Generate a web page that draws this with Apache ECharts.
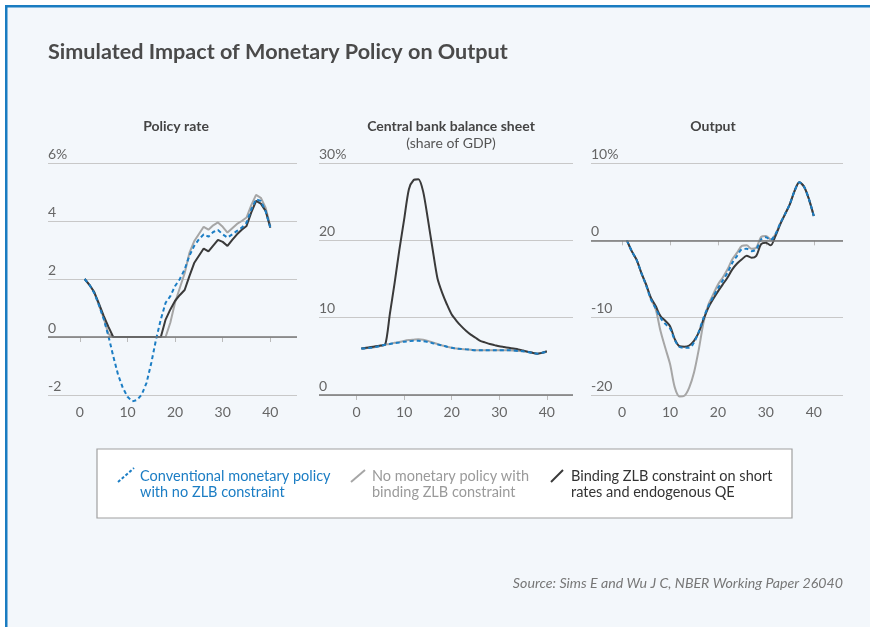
<!DOCTYPE html>
<html>
<head>
<meta charset="utf-8">
<script src="https://cdn.jsdelivr.net/npm/echarts@6/dist/echarts.min.js"></script>
<style>
  body { margin: 0; background: #ffffff; }
  #main { width: 870px; height: 627px; }
</style>
</head>
<body>
<div id="main"></div>
<script>
// quarters after the shock
var quarters = [];
for (var q = 1; q <= 40; q++) quarters.push(q);

var xTicks = [0, 10, 20, 30, 40];

// series names (also the legend text)
var nameConv = 'Conventional monetary policy\nwith no ZLB constraint';
var nameNone = 'No monetary policy with\nbinding ZLB constraint';
var nameQE = 'Binding ZLB constraint on short\nrates and endogenous QE';

// Policy rate, %
var rateConv = [2.0, 1.8, 1.52, 1.1, 0.62, 0.03, -0.66, -1.29, -1.75, -2.06,
  -2.22, -2.17, -1.98, -1.58, -0.89, -0.08, 0.61, 1.18, 1.41, 1.76,
  2.0, 2.33, 2.8, 3.14, 3.37, 3.54, 3.46, 3.62, 3.69, 3.54,
  3.43, 3.54, 3.66, 3.77, 3.94, 4.4, 4.75, 4.69, 4.34, 3.77];
var rateNone = [2.0, 1.8, 1.55, 1.1, 0.65, 0.1, 0, 0, 0, 0,
  0, 0, 0, 0, 0, 0, 0, 0, 0.5, 1.2,
  1.7, 2.2, 2.9, 3.3, 3.55, 3.8, 3.7, 3.85, 3.95, 3.8,
  3.6, 3.75, 3.9, 4.0, 4.12, 4.55, 4.9, 4.8, 4.46, 3.83];
var rateQE = [2.0, 1.8, 1.55, 1.15, 0.73, 0.35, 0, 0, 0, 0,
  0, 0, 0, 0, 0, 0, 0, 0.6, 0.95, 1.25,
  1.45, 1.62, 2.1, 2.55, 2.8, 3.05, 2.95, 3.15, 3.35, 3.28,
  3.14, 3.35, 3.54, 3.7, 3.83, 4.3, 4.69, 4.6, 4.35, 3.77];

// Central bank balance sheet, % of GDP
var bsConv = [6.0, 6.05, 6.1, 6.2, 6.35, 6.5, 6.6, 6.7, 6.8, 6.9,
  6.95, 7.0, 7.0, 6.95, 6.85, 6.7, 6.55, 6.4, 6.25, 6.1,
  6.0, 5.95, 5.9, 5.85, 5.8, 5.8, 5.8, 5.8, 5.8, 5.8,
  5.8, 5.8, 5.75, 5.7, 5.65, 5.55, 5.45, 5.35, 5.45, 5.6];
var bsNone = [6.0, 6.05, 6.1, 6.2, 6.35, 6.5, 6.6, 6.75, 6.85, 7.0,
  7.1, 7.15, 7.2, 7.15, 7.0, 6.8, 6.6, 6.4, 6.25, 6.1,
  6.0, 5.95, 5.9, 5.85, 5.8, 5.8, 5.8, 5.8, 5.8, 5.8,
  5.8, 5.8, 5.75, 5.7, 5.65, 5.55, 5.45, 5.35, 5.45, 5.6];
var bsQE = [6.0, 6.1, 6.2, 6.3, 6.4, 6.5, 10.5, 14.5, 18.8, 22.7,
  26.6, 27.8, 27.9, 26.3, 22.7, 18.8, 15.1, 13.2, 11.7, 10.4,
  9.6, 8.9, 8.3, 7.8, 7.4, 7.0, 6.8, 6.6, 6.45, 6.3,
  6.2, 6.1, 6.0, 5.9, 5.75, 5.6, 5.45, 5.35, 5.45, 5.65];

// Output, % deviation
var outConv = [0, -1.4, -2.5, -4.2, -5.8, -7.6, -8.8, -10.0, -10.8, -11.4,
  -12.9, -13.8, -13.9, -13.9, -13.2, -11.8, -10.0, -8.5, -7.3, -6.2,
  -5.2, -4.2, -2.9, -2.0, -1.15, -1.1, -1.4, -1.15, 0.1, 0.4,
  0.05, 0.8, 2.2, 3.4, 4.7, 6.4, 7.5, 6.9, 5.3, 3.15];
var outNone = [0, -1.4, -2.5, -4.2, -5.8, -7.6, -8.9, -11.7, -13.9, -16.0,
  -19.05, -20.2, -20.1, -19.05, -17.1, -14.1, -10.6, -8.3, -7.0, -5.7,
  -4.8, -3.75, -2.45, -1.6, -0.73, -0.65, -1.1, -0.95, 0.43, 0.56,
  0.13, 0.8, 2.2, 3.4, 4.7, 6.4, 7.5, 6.9, 5.3, 3.15];
var outQE = [0, -1.4, -2.5, -4.2, -5.7, -7.4, -8.5, -9.8, -10.4, -11.1,
  -12.8, -13.7, -13.75, -13.6, -13.0, -11.9, -10.2, -8.7, -7.6, -6.6,
  -5.7, -4.8, -3.75, -3.0, -2.45, -2.0, -2.25, -2.0, -0.5, -0.3,
  -0.65, 0.56, 2.07, 3.36, 4.66, 6.4, 7.5, 6.9, 5.3, 3.15];

var blue = '#1b7dc4';
var grey = '#a6a6a6';
var dark = '#3a3a3a';
var font = 'Lato';

function pairs(values) {
  return quarters.map(function (q, i) { return [q, values[i]]; });
}

function makeSeries(idx, name, values, color, dashed, smooth) {
  var s = {
    name: name,
    type: 'line',
    xAxisIndex: idx,
    yAxisIndex: idx,
    data: pairs(values),
    symbol: 'none',
    smooth: smooth,
    clip: false,
    lineStyle: { color: color, width: 2, type: dashed ? [4, 3] : 'solid' },
    itemStyle: { color: color }
  };
  return s;
}

function xAxis(idx, min, max) {
  return {
    type: 'value', gridIndex: idx, min: min, max: max,
    axisLine: { show: false },
    splitLine: { show: false },
    axisTick: { show: true, length: 5, customValues: xTicks, lineStyle: { color: '#bbbbbb' } },
    axisLabel: { customValues: xTicks, margin: 10, color: '#666', fontSize: 14, fontFamily: font }
  };
}

function yAxis(idx, min, max, step) {
  return {
    type: 'value', gridIndex: idx, min: min, max: max, interval: step,
    axisLine: { show: false },
    axisTick: { show: false },
    splitLine: { lineStyle: { color: '#c8c8c8', width: 1 } },
    axisLabel: {
      inside: true, margin: 0, verticalAlign: 'bottom', padding: [0, 0, 2, 0],
      color: '#666', fontSize: 14, fontFamily: font,
      formatter: function (v) { return v === max ? v + '%' : String(v); }
    }
  };
}

// dark line at zero
var zeroLine = {
  silent: true, symbol: 'none', label: { show: false },
  lineStyle: { color: '#777777', width: 1.5, type: 'solid' },
  data: [{ yAxis: 0 }]
};

var series = [];
var sets = [[rateConv, rateNone, rateQE, false], [bsConv, bsNone, bsQE, 0.25], [outConv, outNone, outQE, 0.3]];
sets.forEach(function (set, i) {
  var g = makeSeries(i, nameNone, set[1], grey, false, set[3]);
  g.markLine = zeroLine;
  series.push(g);
  series.push(makeSeries(i, nameQE, set[2], dark, false, set[3]));
  series.push(makeSeries(i, nameConv, set[0], blue, true, set[3]));
});

function legendAt(left, name, color) {
  return {
    left: left, top: 468, padding: 0, icon: 'none', itemWidth: 15, itemHeight: 14,
    selectedMode: false, data: [name],
    textStyle: { color: color, fontSize: 14.5, lineHeight: 16, fontFamily: font }
  };
}

var option = {
  backgroundColor: '#ffffff',
  animation: false,
  title: [
    { text: 'Simulated Impact of Monetary Policy on Output', left: 48, top: 41, padding: 0,
      textStyle: { fontSize: 21.6, fontWeight: 'bold', color: '#4a4a4a', fontFamily: font } },
    { text: 'Policy rate', left: 176, top: 119, padding: 0, textAlign: 'center',
      textStyle: { fontSize: 14, fontWeight: 'bold', color: '#444', fontFamily: font } },
    { text: 'Central bank balance sheet', subtext: '(share of GDP)', left: 451, top: 119, padding: 0,
      textAlign: 'center', itemGap: 3,
      textStyle: { fontSize: 14, fontWeight: 'bold', color: '#444', fontFamily: font },
      subtextStyle: { fontSize: 14, color: '#555', fontFamily: font } },
    { text: 'Output', left: 713, top: 119, padding: 0, textAlign: 'center',
      textStyle: { fontSize: 14, fontWeight: 'bold', color: '#444', fontFamily: font } },
    { text: 'Source: Sims E and Wu J C, NBER Working Paper 26040', right: 27, top: 576, padding: 0,
      textStyle: { fontSize: 14.2, fontWeight: 'normal', fontStyle: 'italic', color: '#777', fontFamily: font } }
  ],
  legend: [
    legendAt(120, nameConv, blue),
    legendAt(352, nameNone, '#9a9a9a'),
    legendAt(551, nameQE, '#333333')
  ],
  grid: [
    { left: 48, top: 163, width: 249, height: 232 },
    { left: 319, top: 163, width: 254, height: 232 },
    { left: 591, top: 163, width: 252, height: 232 }
  ],
  xAxis: [xAxis(0, -6.7, 45.6), xAxis(1, -7.9, 45.5), xAxis(2, -6.5, 46.1)],
  yAxis: [yAxis(0, -2, 6, 2), yAxis(1, 0, 30, 10), yAxis(2, -20, 10, 10)],
  graphic: [
    { type: 'rect', z: -10, shape: { x: 5, y: 5, width: 865, height: 622 }, style: { fill: '#f3f7fb' } },
    { type: 'rect', z: -9, shape: { x: 5, y: 5, width: 865, height: 2.5 }, style: { fill: '#1a7cc1' } },
    { type: 'rect', z: -9, shape: { x: 5, y: 5, width: 2.5, height: 622 }, style: { fill: '#1a7cc1' } },
    // legend frame and keys
    { type: 'rect', z: -8, shape: { x: 97, y: 449, width: 695, height: 69 },
      style: { fill: '#ffffff', stroke: '#a0a0a0', lineWidth: 1.2 } },
    { type: 'line', shape: { x1: 118, y1: 482, x2: 134, y2: 468 },
      style: { stroke: blue, lineWidth: 2, lineDash: [3, 2] } },
    { type: 'line', shape: { x1: 351, y1: 482, x2: 365, y2: 470 },
      style: { stroke: grey, lineWidth: 2 } },
    { type: 'line', shape: { x1: 551, y1: 482, x2: 563, y2: 470 },
      style: { stroke: dark, lineWidth: 2 } }
  ],
  series: series
};

var myChart = echarts.init(document.getElementById('main'));
myChart.setOption(option);
</script>
</body>
</html>
